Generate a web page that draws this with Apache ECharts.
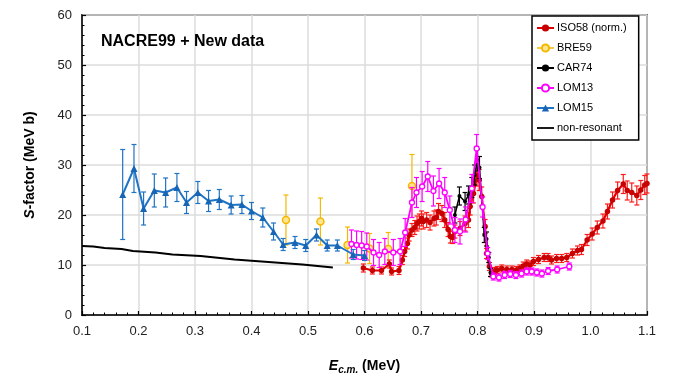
<!DOCTYPE html>
<html><head><meta charset="utf-8">
<script src="https://cdn.jsdelivr.net/npm/echarts@6/dist/echarts.min.js"></script>
<style>html,body{margin:0;padding:0;background:#fff}#c{width:674px;height:377px}</style>
</head><body><div id="c"></div>
<script>
// [E (MeV), S (MeV b), error]
const iso58 = [[0.598,9.4,0.8],[0.614,8.9,0.7],[0.630,8.9,0.7],[0.644,10.2,0.8],[0.648,8.7,0.7],[0.661,8.9,0.8],[0.667,11.0,0.9],[0.671,12.7,1.0],[0.676,14.3,1.1],[0.679,16.0,1.2],[0.684,17.0,1.3],[0.689,17.5,1.4],[0.693,18.3,1.5],[0.697,18.7,1.5],[0.701,19.3,1.5],[0.704,18.7,1.5],[0.710,19.0,1.5],[0.716,18.5,1.5],[0.723,19.3,1.5],[0.727,19.5,1.5],[0.731,20.7,1.6],[0.737,20.3,1.6],[0.742,19.0,1.5],[0.748,17.1,1.4],[0.752,15.7,1.3],[0.756,15.5,1.2],[0.760,16.7,1.3],[0.769,17.3,1.4],[0.778,18.3,1.5],[0.784,19.0,1.5],[0.787,21.7,1.7],[0.793,24.3,1.9],[0.799,28.0,2.2],[0.803,27.0,2.1],[0.8075,23.7,1.9],[0.8135,17.7,1.4],[0.816,12.3,1.0],[0.821,9.7,0.8],[0.825,8.3,0.7],[0.830,8.8,0.7],[0.835,9.0,0.7],[0.843,9.3,0.7],[0.852,9.1,0.7],[0.861,9.1,0.7],[0.869,9.0,0.7],[0.875,9.3,0.7],[0.881,9.8,0.8],[0.887,10.2,0.8],[0.893,10.0,0.8],[0.899,10.7,0.8],[0.908,11.1,0.8],[0.918,11.5,0.8],[0.925,11.5,0.8],[0.931,11.0,0.8],[0.940,11.3,0.8],[0.949,11.3,0.8],[0.958,11.5,0.8],[0.968,12.3,0.9],[0.977,12.9,0.9],[0.984,13.1,1.0],[0.994,15.0,1.1],[1.003,16.2,1.2],[1.012,17.5,1.3],[1.022,18.8,1.4],[1.030,20.7,1.5],[1.039,23.0,1.6],[1.048,24.9,1.7],[1.058,26.2,1.9],[1.065,24.9,1.9],[1.073,24.5,1.9],[1.082,23.9,1.9],[1.089,25.0,1.9],[1.096,26.0,1.9],[1.100,26.3,1.9]];
const bre59 = [[0.461,19.0,5.0],[0.522,18.7,4.7],[0.570,14.0,3.6],[0.609,13.3,3.0],[0.642,13.2,3.3],[0.684,25.8,6.3]];
const car74 = [[0.760,20.0,1.6],[0.768,23.8,1.8],[0.778,22.7,1.8],[0.784,24.0,1.8],[0.790,25.5,2.0],[0.795,28.0,2.0],[0.800,31.0,2.2],[0.8035,29.5,2.2],[0.812,16.0,1.5],[0.816,15.2,1.4],[0.820,11.5,1.0],[0.823,8.5,0.8]];
const lom13 = [[0.577,14.2,2.8],[0.586,14.0,2.8],[0.595,13.9,2.8],[0.604,13.7,2.7],[0.616,12.5,2.6],[0.626,12.0,2.5],[0.636,12.7,2.6],[0.651,12.5,2.6],[0.663,12.7,2.6],[0.672,16.5,2.8],[0.684,22.5,3.0],[0.692,24.5,3.0],[0.702,25.7,3.0],[0.712,27.7,3.0],[0.722,24.8,3.0],[0.732,26.3,3.0],[0.742,24.5,3.0],[0.751,21.0,2.8],[0.760,17.0,2.5],[0.769,16.7,2.5],[0.779,19.1,2.5],[0.790,25.3,2.8],[0.7985,33.3,2.8],[0.809,21.6,2.0],[0.818,12.3,1.2],[0.828,7.7,0.7],[0.838,7.5,0.7],[0.848,8.0,0.7],[0.858,8.2,0.7],[0.868,8.0,0.7],[0.878,8.3,0.7],[0.887,8.7,0.7],[0.896,8.7,0.7],[0.905,8.5,0.7],[0.914,8.3,0.7],[0.925,8.8,0.7],[0.941,9.1,0.7],[0.9625,9.7,0.7]];
const lom15 = [[0.172,24.1,9.0],[0.192,29.3,4.8],[0.209,21.3,3.3],[0.228,24.9,3.3],[0.248,24.5,2.9],[0.268,25.5,2.8],[0.285,22.5,2.2],[0.305,24.5,2.2],[0.324,22.8,2.1],[0.343,23.1,2.0],[0.364,22.0,1.8],[0.383,22.1,1.8],[0.400,20.8,1.7],[0.420,19.5,1.9],[0.439,16.7,1.7],[0.456,14.1,1.2],[0.477,14.5,1.2],[0.496,13.9,1.2],[0.515,16.0,1.2],[0.534,13.9,1.1],[0.552,13.9,1.1],[0.580,12.1,1.0],[0.600,11.9,1.0]];
const nonRes = [[0.100,13.8],[0.120,13.7],[0.140,13.4],[0.170,13.2],[0.190,12.8],[0.230,12.5],[0.260,12.1],[0.310,11.8],[0.370,11.1],[0.430,10.6],[0.490,10.1],[0.544,9.5]];
const xTicks = {min:0.1, max:1.1, step:0.1};
const yTicks = {min:0, max:60, step:10};

function errSeries(name, data, color, z){
  return {
    type:'custom', name: name+' err', z: z,
    data: data.map(d => [d[0], d[1]-d[2], d[1]+d[2]]),
    encode:{x:0, y:[1,2]},
    renderItem: function(params, api){
      const x = api.value(0);
      const p1 = api.coord([x, api.value(1)]);
      const p2 = api.coord([x, api.value(2)]);
      const c = 2.5;
      const st = {stroke: color, lineWidth: 1.2};
      return {type:'group', children:[
        {type:'line', shape:{x1:p1[0],y1:p1[1],x2:p2[0],y2:p2[1]}, style:st},
        {type:'line', shape:{x1:p1[0]-c,y1:p1[1],x2:p1[0]+c,y2:p1[1]}, style:st},
        {type:'line', shape:{x1:p2[0]-c,y1:p2[1],x2:p2[0]+c,y2:p2[1]}, style:st}
      ]};
    },
    silent:true
  };
}

const chart = echarts.init(document.getElementById('c'), null, {renderer:'canvas'});
const font = 'Liberation Sans, Arial, sans-serif';
chart.setOption({
  animation:false,
  textStyle:{fontFamily:font},
  title:{text:'NACRE99 + New data', left:96, top:29, textStyle:{fontSize:16, fontWeight:'bold', color:'#000', fontFamily:font}},
  grid:{left:82, right:27, top:15, bottom:62, outerBoundsMode:'none', containLabel:false, show:true, borderColor:'#000', borderWidth:1.5, backgroundColor:'transparent'},
  legend:{
    orient:'vertical', left:532, top:16, width:108,
    padding:[5,12,5,4], itemGap:6, itemWidth:17, itemHeight:9,
    borderColor:'#000', borderWidth:1.5, backgroundColor:'#fff',
    textStyle:{fontSize:11, color:'#000', fontFamily:font, lineHeight:14, padding:[0,0,0,-2]},
    data:[
      {name:'ISO58 (norm.)'},
      {name:'BRE59', lineStyle:{width:1.5, color:'#f5b800', opacity:1}},
      {name:'CAR74'},
      {name:'LOM13'},
      {name:'LOM15'},
      {name:'non-resonant', icon:'path://M0,0 L17,0 L17,1.8 L0,1.8 Z', itemStyle:{color:'#000'}}
    ]
  },
  xAxis:{
    type:'value', min:xTicks.min, max:xTicks.max, interval:xTicks.step,
    axisLine:{onZero:false, lineStyle:{color:'#000', width:1.5}},
    axisTick:{inside:true, length:4, lineStyle:{color:'#000', width:1.2}},
    minorTick:{show:true, splitNumber:5, length:2.5, lineStyle:{color:'#000', width:1}},
    splitLine:{show:true, lineStyle:{color:'#dcdcdc', width:1.5}},
    axisLabel:{fontSize:13, color:'#222', margin:10, formatter:v=>v.toFixed(1), fontFamily:font},
    name:'{e|E}{s|c.m.}{n| (MeV)}', nameLocation:'middle', nameGap:42,
    nameTextStyle:{rich:{
      e:{fontSize:14, fontWeight:'bold', fontStyle:'italic', color:'#000', fontFamily:font},
      s:{fontSize:10, fontWeight:'bold', fontStyle:'italic', color:'#000', fontFamily:font, padding:[8,0,0,0]},
      n:{fontSize:14, fontWeight:'bold', color:'#000', fontFamily:font}
    }}
  },
  yAxis:{
    type:'value', min:yTicks.min, max:yTicks.max, interval:yTicks.step,
    axisLine:{show:true, lineStyle:{color:'#000', width:1.5}},
    axisTick:{show:true, inside:true, length:4, lineStyle:{color:'#000', width:1.2}},
    minorTick:{show:true, splitNumber:5, length:2.5, lineStyle:{color:'#000', width:1}},
    splitLine:{show:true, lineStyle:{color:'#dcdcdc', width:1.5}},
    axisLabel:{fontSize:13, color:'#222', margin:10, fontFamily:font},
    name:'{s|S}{n|-factor (MeV b)}', nameLocation:'middle', nameGap:45, nameRotate:90,
    nameTextStyle:{rich:{
      s:{fontSize:14, fontWeight:'bold', fontStyle:'italic', color:'#000', fontFamily:font},
      n:{fontSize:14, fontWeight:'bold', color:'#000', fontFamily:font}
    }}
  },
  series:[
    errSeries('BRE59', bre59, '#f5b800', 2),
    errSeries('ISO58', iso58, '#ff1a1a', 3),
    errSeries('CAR74', car74, '#000', 4),
    errSeries('LOM13', lom13, '#ff00ff', 5),
    errSeries('LOM15', lom15, '#1f74c4', 6),
    {name:'ISO58 (norm.)', type:'line', data:iso58.map(d=>[d[0],d[1]]), z:3,
      symbol:'circle', symbolSize:5.5, showAllSymbol:true,
      lineStyle:{color:'#e00000', width:2.2}, itemStyle:{color:'#c80000'}},
    {name:'BRE59', type:'line', data:bre59.map(d=>[d[0],d[1]]), z:2,
      symbol:'circle', symbolSize:7, lineStyle:{width:0, opacity:0},
      itemStyle:{color:'#ffe58f', borderColor:'#f5b800', borderWidth:1.5}},
    {name:'CAR74', type:'line', data:car74.map(d=>[d[0],d[1]]), z:4,
      symbol:'circle', symbolSize:4, showAllSymbol:true,
      lineStyle:{color:'#000', width:1.5}, itemStyle:{color:'#000'}},
    {name:'LOM13', type:'line', data:lom13.map(d=>[d[0],d[1]]), z:5,
      symbol:'circle', symbolSize:5, showAllSymbol:true,
      lineStyle:{color:'#ff00ff', width:1.8}, itemStyle:{color:'#fff', borderColor:'#ff00ff', borderWidth:1.3}},
    {name:'LOM15', type:'line', data:lom15.map(d=>[d[0],d[1]]), z:6,
      symbol:'triangle', symbolSize:7, showAllSymbol:true,
      lineStyle:{color:'#1f74c4', width:2}, itemStyle:{color:'#1666b5'}},
    {name:'non-resonant', type:'line', data:nonRes, z:7, symbol:'none', smooth:false,
      lineStyle:{color:'#000', width:1.8}, itemStyle:{color:'#000'}}
  ]
});
</script>
</body></html>
